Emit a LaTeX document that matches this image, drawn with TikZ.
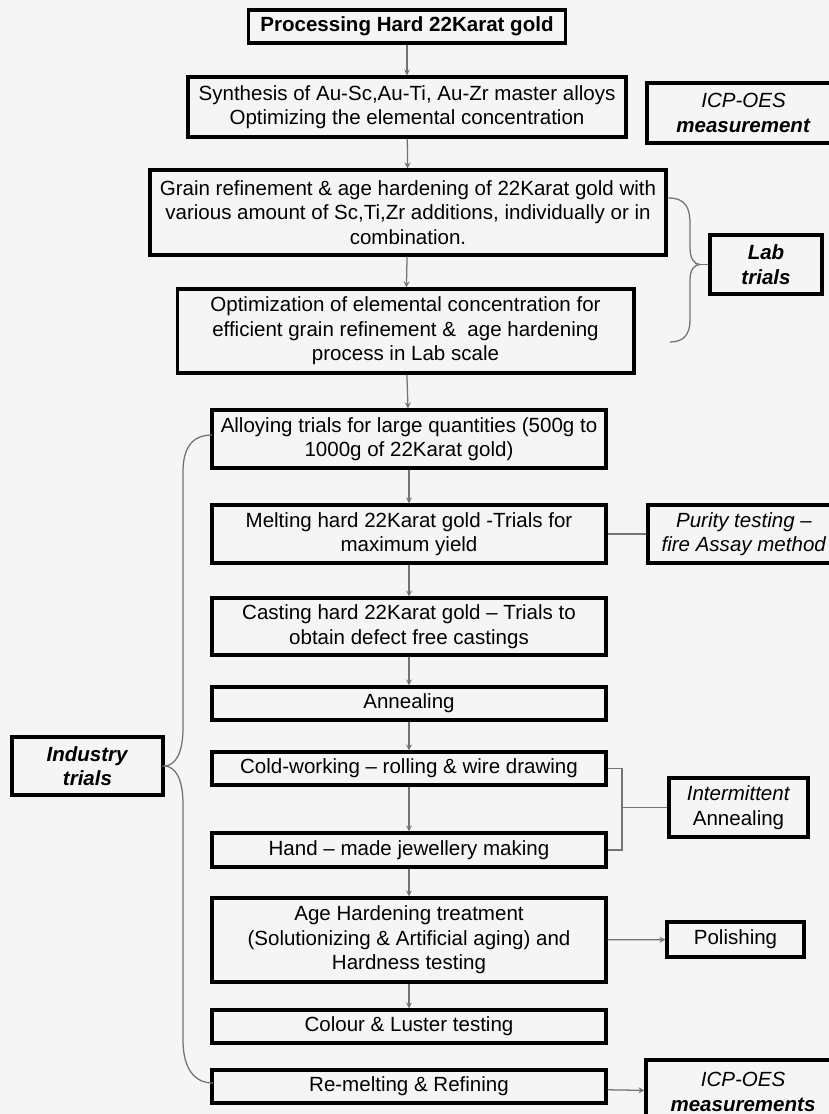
\documentclass[tikz,border=0pt]{standalone}
\usepackage{fontspec}
\setmainfont{Liberation Sans}
\usepackage{tikz}

\begin{document}
\begin{tikzpicture}[scale=0.5,
        stage/.style={draw, line width=2.2pt, align=center, inner sep=0pt,
            font=\fontsize{14.6}{17.4}\selectfont},
        link/.style={draw=black!55, line width=0.9pt},
        >=stealth]
        % frame of the page
        \fill[black!4] (0,0) rectangle (41.45,-55.7);
        \useasboundingbox (0,0) rectangle (41.45,-55.7);

        % lab part
        \node[stage, minimum width=226pt, minimum height=23.5pt] (proc) at (20.35,-1.325) {\textbf{Processing Hard 22Karat gold}};
        \node[stage, minimum width=311.6pt, minimum height=42.7pt] (synth) at (20.35,-5.35) {Synthesis of Au-Sc,Au-Ti, Au-Zr master alloys\\ Optimizing the elemental concentration};
        \node[stage, minimum width=137.3pt, minimum height=42.7pt] (icpa) at (37.175,-5.65) {\textit{ICP-OES}\\ \textbf{\textit{measurement}}};
        \node[stage, minimum width=367pt, minimum height=60.5pt] (grain) at (20.4,-10.625) {Grain refinement \& age hardening of 22Karat gold with\\ various amount of Sc,Ti,Zr additions, individually or in\\ combination.};
        \node[stage, minimum width=325pt, minimum height=59.75pt] (optim) at (20.275,-16.55) {Optimization of elemental concentration for\\ efficient grain refinement \&\ \ age hardening\\ process in Lab scale};
        \node[stage, minimum width=79.7pt, minimum height=42pt] (lab) at (38.3,-13.225) {\textbf{\textit{Lab}}\\ \textbf{\textit{trials}}};

        % industry part
        \node[stage, minimum width=280.3pt, minimum height=41.3pt] (alloy) at (20.45,-21.95) {Alloying trials for large quantities (500g to\\ 1000g of 22Karat gold)};
        \node[stage, minimum width=280.3pt, minimum height=41.3pt] (melt) at (20.45,-26.7) {Melting hard 22Karat gold -Trials for\\ maximum yield};
        \node[stage, minimum width=136.6pt, minimum height=41.3pt] (purity) at (37.2,-26.7) {\textit{Purity testing –}\\ \textit{fire Assay method}};
        \node[stage, minimum width=280.3pt, minimum height=40.5pt] (cast) at (20.45,-31.325) {Casting hard 22Karat gold – Trials to\\ obtain defect free castings};
        \node[stage, minimum width=280.3pt, minimum height=23.5pt] (anneal) at (20.45,-35.175) {Annealing};
        \node[stage, minimum width=280.3pt, minimum height=23.5pt] (cold) at (20.45,-38.425) {Cold-working – rolling \& wire drawing};
        \node[stage, minimum width=280.3pt, minimum height=24.2pt] (hand) at (20.45,-42.5) {Hand – made jewellery making};
        \node[stage, minimum width=280.3pt, minimum height=59.75pt] (age) at (20.45,-47) {Age Hardening treatment\\ (Solutionizing \& Artificial aging) and\\ Hardness testing};
        \node[stage, minimum width=280.3pt, minimum height=23.5pt] (colour) at (20.45,-51.325) {Colour \& Luster testing};
        \node[stage, minimum width=280.3pt, minimum height=23.5pt] (remelt) at (20.45,-54.325) {Re-melting \& Refining};
        \node[stage, minimum width=107.4pt, minimum height=41.3pt] (indus) at (4.375,-38.3) {\textbf{\textit{Industry}}\\ \textbf{\textit{trials}}};
        \node[stage, minimum width=98.9pt, minimum height=42pt] (inter) at (36.925,-40.375) {\textit{Intermittent}\\ Annealing};
        \node[stage, minimum width=97.4pt, minimum height=24.9pt] (polish) at (36.775,-46.975) {Polishing};
        \node[stage, minimum width=138pt, minimum height=45.5pt] (icpb) at (37.15,-54.6) {\textit{ICP-OES}\\ \textbf{\textit{measurements}}};

        % main flow
        \draw[link, ->] (proc) -- (synth);
        \draw[link, ->] (synth) -- (grain);
        \draw[link, ->] (grain) -- (optim);
        \draw[link, ->] (optim) -- (alloy);
        \draw[link, ->] (alloy) -- (melt);
        \draw[link, ->] (melt) -- (cast);
        \draw[link, ->] (cast) -- (anneal);
        \draw[link, ->] (anneal) -- (cold);
        \draw[link, ->] (cold) -- (hand);
        \draw[link, ->] (hand) -- (age);
        \draw[link, ->] (age) -- (colour);

        % side links
        \draw[link] (melt) -- (purity);
        \draw[link, ->] (age) -- (polish);
        \draw[link, ->] (remelt) -- (icpb);
        \coordinate (ia) at (31.1,-40.375);
        \draw[link] (cold.east) -| (ia) |- (hand.east);
        \draw[link] (ia) -- (inter);

        % braces
        \coordinate (labtip) at (35.0,-13.225);
        \draw[link] (33.4,-9.9) .. controls (34.3,-9.9) and (34.5,-10.4) .. (34.5,-11.2) -- (34.5,-12.4)
            .. controls (34.5,-12.9) and (34.7,-13.225) .. (labtip)
            .. controls (34.7,-13.225) and (34.5,-13.5) .. (34.5,-14.0) -- (34.5,-16.0)
            .. controls (34.5,-16.7) and (34.2,-17.1) .. (33.5,-17.1);
        \draw[link] (labtip) -- (lab);
        \coordinate (indtip) at (8.2,-38.3);
        \draw[link] (10.6,-21.75) .. controls (9.6,-21.75) and (9.15,-22.4) .. (9.15,-23.6) -- (9.15,-36.4)
            .. controls (9.15,-37.6) and (8.8,-38.3) .. (indtip)
            .. controls (8.8,-38.3) and (9.15,-39.0) .. (9.15,-40.2) -- (9.15,-52.0)
            .. controls (9.15,-53.4) and (9.7,-54.15) .. (10.65,-54.15);
        \draw[link] (indtip) -- (indus);
    \end{tikzpicture}
\end{document}
